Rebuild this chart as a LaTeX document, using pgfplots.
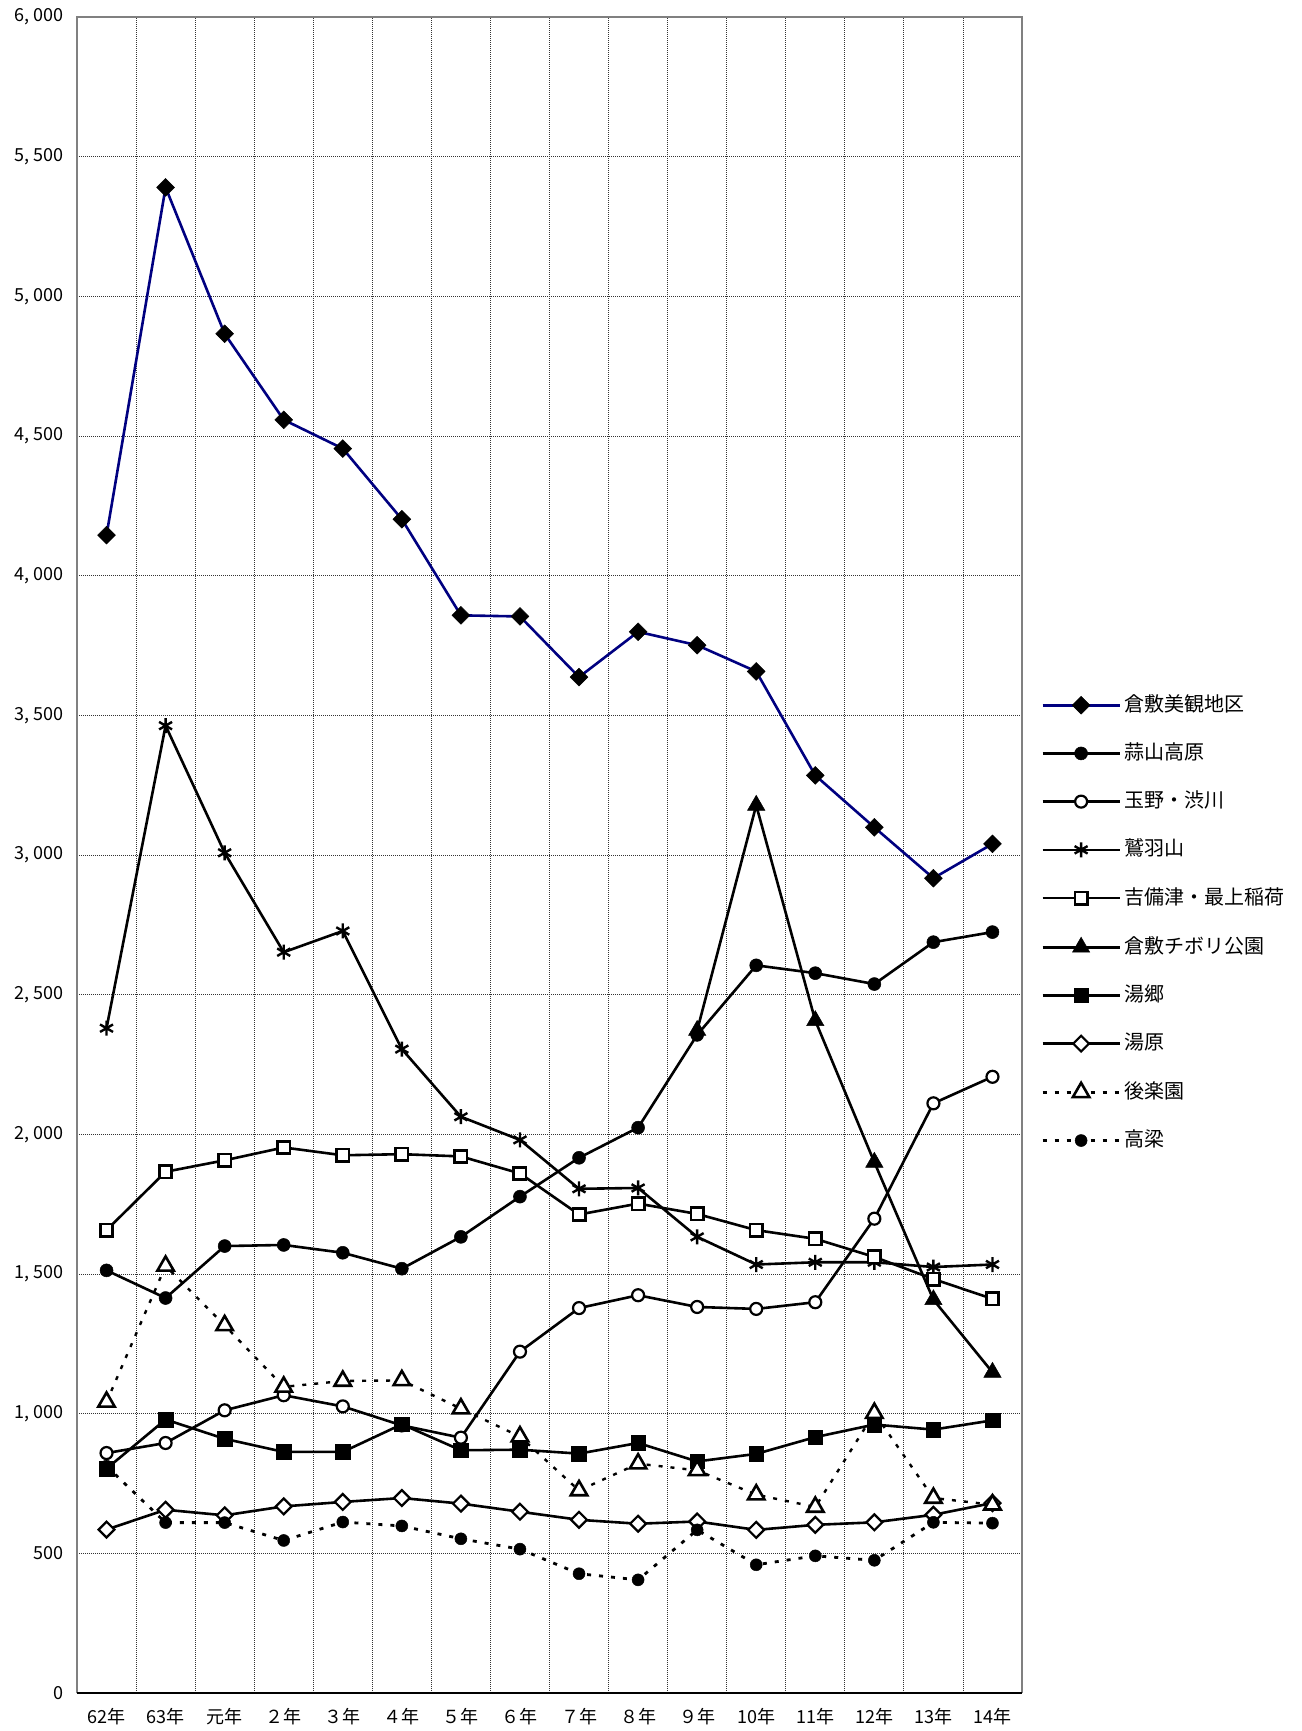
\documentclass[border=0pt]{standalone}
\usepackage{fontspec}
\setmainfont{Noto Sans CJK JP}
\usepackage{pgfplots}
\pgfplotsset{compat=1.18}
\definecolor{navyc}{RGB}{0,0,128}
\definecolor{axgray}{RGB}{128,128,128}
\begin{document}
\begin{tikzpicture}[x=1pt,y=1pt]
\useasboundingbox (-77,-38) rectangle (1224,1693);
\begin{axis}[
  at={(0,0)}, anchor=south west,
  scale only axis, width=945pt, height=1676pt,
  xmin=-0.5, xmax=15.5, ymin=0, ymax=6000,
  clip=false,
  xtick={0,...,15},
  xticklabels={62年,63年,元年,２年,３年,４年,５年,６年,７年,８年,９年,10年,11年,12年,13年,14年},
  minor xtick={0.5,1.5,...,14.5},
  ytick={0,500,...,6000},
  yticklabels={0,500,{1, 000},{1, 500},{2, 000},{2, 500},{3, 000},{3, 500},{4, 000},{4, 500},{5, 000},{5, 500},{6, 000}},
  xmajorgrids=false, xminorgrids=true, ymajorgrids=true,
  grid style={black!80, line width=0.8pt, dash pattern=on 1pt off 1pt},
  minor grid style={black!80, line width=0.8pt, dash pattern=on 1pt off 1pt},
  major tick length=0pt, minor tick length=0pt,
  axis line style={draw=none},
  yticklabel style={font=\fontsize{18}{18}\selectfont, xshift=-10pt},
  xticklabel style={font=\fontsize{18}{18}\selectfont, yshift=-12pt},
  every axis plot/.append style={line width=2.6pt},
  legend style={at={(1,1)}, anchor=north west, xshift=11pt, yshift=-669pt,
    draw=none, fill=white, font=\fontsize{20}{20}\selectfont,
    row sep=30.2pt, inner xsep=8pt, inner ysep=10pt,
    nodes={inner xsep=3pt, inner ysep=0pt, text height=15pt, text depth=3pt}},
  legend cell align=left,
  legend image code/.code={
    \draw[mark repeat=2,mark phase=2] plot coordinates {(0pt,0pt) (38.5pt,0pt) (77pt,0pt)};
  },
]
\draw[axgray, line width=2.8pt] (rel axis cs:0,0) -- (rel axis cs:0,1) -- (rel axis cs:1,1) -- (rel axis cs:1,0);
\draw[black, line width=2.8pt] (rel axis cs:0,0) -- (rel axis cs:1,0);

\addplot[navyc, mark=square*, mark size=6.3pt, mark options={solid, rotate=45, draw=black, fill=black, line width=0.5pt}]
 coordinates {(0,4145)(1,5390)(2,4866)(3,4558)(4,4455)(5,4202)(6,3858)(7,3854)(8,3637)(9,3799)(10,3751)(11,3657)(12,3285)(13,3099)(14,2917)(15,3040)};
\addlegendentry{倉敷美観地区}
\addplot[black, mark=*, mark size=6.5pt, mark options={solid, fill=black, line width=0.5pt}]
 coordinates {(0,1513)(1,1414)(2,1600)(3,1604)(4,1576)(5,1519)(6,1633)(7,1777)(8,1916)(9,2024)(10,2356)(11,2605)(12,2577)(13,2538)(14,2688)(15,2724)};
\addlegendentry{蒜山高原}
\addplot[black, mark=*, mark size=6pt, mark options={solid, fill=white, line width=2.2pt}]
 coordinates {(0,859)(1,895)(2,1012)(3,1066)(4,1026)(5,958)(6,914)(7,1222)(8,1378)(9,1424)(10,1382)(11,1375)(12,1399)(13,1698)(14,2111)(15,2206)};
\addlegendentry{玉野・渋川}
\addplot[black, mark=asterisk, mark size=7.5pt, mark options={solid, line width=2.4pt}]
 coordinates {(0,2380)(1,3463)(2,3008)(3,2652)(4,2728)(5,2305)(6,2063)(7,1980)(8,1805)(9,1808)(10,1633)(11,1534)(12,1542)(13,1542)(14,1525)(15,1534)};
\addlegendentry{鷲羽山}
\addplot[black, mark=square*, mark size=6.2pt, mark options={solid, fill=white, line width=2.6pt}]
 coordinates {(0,1657)(1,1866)(2,1907)(3,1953)(4,1925)(5,1929)(6,1921)(7,1860)(8,1713)(9,1752)(10,1715)(11,1657)(12,1626)(13,1561)(14,1482)(15,1411)};
\addlegendentry{吉備津・最上稲荷}
\addplot[black, mark=triangle*, mark size=10pt, mark options={solid, fill=black, line width=0.5pt}]
 coordinates {(10,2372)(11,3178)(12,2407)(13,1900)(14,1408)(15,1148)};
\addlegendentry{倉敷チボリ公園}
\addplot[black, mark=square*, mark size=7.3pt, mark options={solid, fill=black, line width=0.5pt}]
 coordinates {(0,803)(1,979)(2,910)(3,863)(4,863)(5,962)(6,869)(7,871)(8,857)(9,895)(10,829)(11,856)(12,916)(13,961)(14,943)(15,976)};
\addlegendentry{湯郷}
\addplot[black, mark=square*, mark size=5.6pt, mark options={solid, rotate=45, fill=white, line width=2.2pt}]
 coordinates {(0,585)(1,656)(2,636)(3,668)(4,684)(5,698)(6,678)(7,649)(8,620)(9,606)(10,614)(11,584)(12,602)(13,611)(14,638)(15,680)};
\addlegendentry{湯原}
\addplot[black, line width=2.4pt, dash pattern=on 4pt off 8pt, mark=triangle*, mark size=9.5pt, mark options={solid, fill=white, line width=2.6pt}]
 coordinates {(0,1042)(1,1529)(2,1316)(3,1096)(4,1117)(5,1119)(6,1018)(7,918)(8,725)(9,821)(10,797)(11,710)(12,666)(13,1002)(14,698)(15,674)};
\addlegendentry{後楽園}
\addplot[black, line width=2.8pt, dash pattern=on 4pt off 8pt, mark=*, mark size=6pt, mark options={solid, fill=black, line width=0.5pt}]
 coordinates {(0,812)(1,610)(2,610)(3,546)(4,612)(5,598)(6,552)(7,515)(8,427)(9,405)(10,584)(11,459)(12,491)(13,475)(14,611)(15,608)};
\addlegendentry{高梁}
\end{axis}
\end{tikzpicture}
\end{document}
